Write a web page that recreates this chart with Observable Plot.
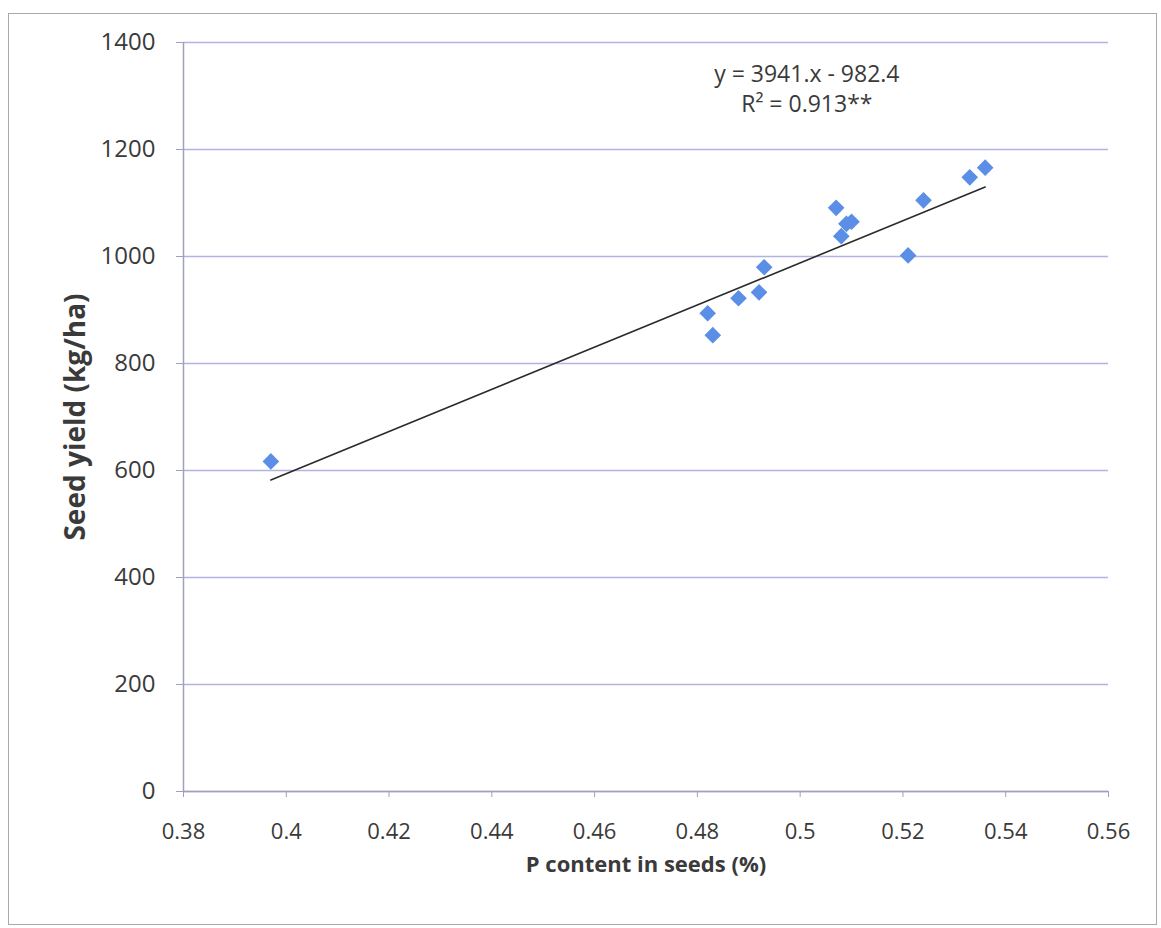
<!DOCTYPE html>
<html>
<head>
<meta charset="utf-8">
<script src="https://cdn.jsdelivr.net/npm/d3@7"></script>
<script src="https://cdn.jsdelivr.net/npm/@observablehq/plot@0.6"></script>
<style>
  body { margin: 0; background: #fff; }
  #chart { position: relative; width: 1161px; height: 928px; }
  #chart svg { position: absolute; left: 0; top: 0; }
  #border {
    position: absolute; left: 8px; top: 13px; width: 1149px; height: 912px;
    border: 1.5px solid #a9a9b4; box-sizing: border-box; pointer-events: none;
  }
</style>
</head>
<body>
<div id="chart"><div id="border"></div></div>
<script>
// P content in seeds (%) and seed yield (kg/ha) for each treatment
const pContent = [0.397, 0.482, 0.483, 0.488, 0.492, 0.493, 0.507, 0.508, 0.509, 0.510, 0.521, 0.524, 0.533, 0.536];
const seedYield = [617, 894, 853, 922, 933, 980, 1091, 1038, 1061, 1065, 1002, 1105, 1148, 1166];

// Linear fit as reported on the chart
const slope = 3941;
const intercept = -982.4;
const fitLabel = "y = 3941.x - 982.4\nR² = 0.913**";
const fitLabelPos = { x: 0.5013, y: 1316 };

// Axis ticks
const xTicks = [0.38, 0.40, 0.42, 0.44, 0.46, 0.48, 0.50, 0.52, 0.54, 0.56];
const yTicks = [0, 200, 400, 600, 800, 1000, 1200, 1400];

const points = pContent.map((p, i) => ({ p, yld: seedYield[i] }));
const xExtent = d3.extent(pContent);
const fitLine = xExtent.map(p => ({ p, yld: slope * p + intercept }));

const gridColor = "#b3b3e2";
const axisColor = "#a0a0bc";

const chart = Plot.plot({
  width: 1161,
  height: 928,
  marginLeft: 183,
  marginRight: 53,
  marginTop: 42,
  marginBottom: 137,
  style: { fontFamily: "'Open Sans', sans-serif", background: "transparent", color: "#333" },
  x: { domain: [0.38, 0.56], ticks: xTicks },
  y: { domain: [0, 1400], ticks: yTicks },
  marks: [
    Plot.gridY(yTicks, { stroke: gridColor, strokeOpacity: 1, strokeWidth: 1.3 }),
    Plot.ruleX([0.38], { stroke: axisColor, strokeWidth: 1.5 }),
    Plot.ruleY([0], { stroke: axisColor, strokeWidth: 1.5 }),
    Plot.axisX(xTicks, {
      tickSize: 6, tickPadding: 26, stroke: axisColor, fontSize: 22, fill: "#3a3a3a",
      tickFormat: d => String(+d.toFixed(2)),
      label: "P content in seeds (%)", labelAnchor: "center", labelArrow: "none",
      labelOffset: 80
    }),
    Plot.axisY(yTicks, {
      tickSize: 7, tickPadding: 21, stroke: axisColor, fontSize: 24, fill: "#3a3a3a",
      tickFormat: d => String(d),
      label: "Seed yield (kg/ha)", labelAnchor: "center", labelArrow: "none",
      labelOffset: 118
    }),
    Plot.line(fitLine, { x: "p", y: "yld", stroke: "#2a2a2a", strokeWidth: 1.6 }),
    Plot.dot(points, { x: "p", y: "yld", symbol: "diamond2", r: 7.5, fill: "#5b8ee6", stroke: "none" }),
    Plot.text([fitLabelPos], {
      x: "x", y: "y", text: () => fitLabel, fontSize: 23, lineHeight: 1.3,
      fill: "#3a3a3a", textAnchor: "middle"
    })
  ]
});

// Axis titles are bold
d3.select(chart).selectAll("[aria-label='x-axis label'] text")
  .attr("font-weight", "bold").attr("font-size", 22).attr("fill", "#3a3a3a");
d3.select(chart).selectAll("[aria-label='y-axis label'] text")
  .attr("font-weight", "bold").attr("font-size", 28).attr("fill", "#3a3a3a");

document.getElementById("chart").prepend(chart);
</script>
</body>
</html>
